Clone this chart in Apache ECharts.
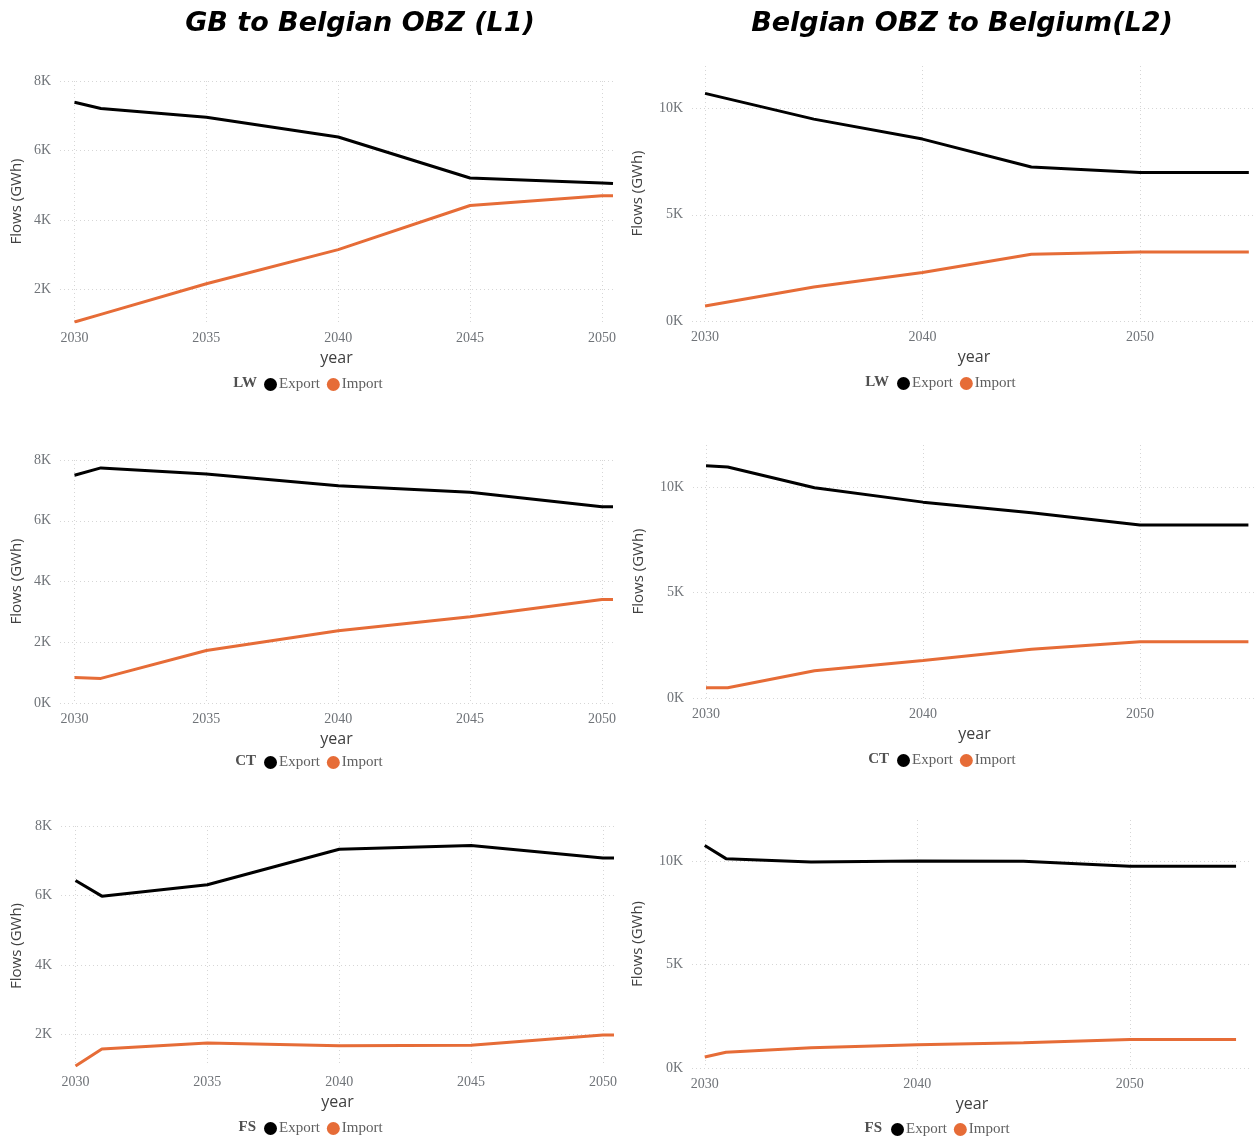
<!DOCTYPE html>
<html><head><meta charset="utf-8">
<script src="https://cdn.jsdelivr.net/npm/echarts@6/dist/echarts.min.js"></script>
<style>html,body{margin:0;padding:0;background:#fff}#c{width:1258px;height:1139px}</style>
</head><body><div id="c"></div><script>
// ---- data (GWh) ----
const yearsL1 = [2030, 2031, 2035, 2040, 2045, 2050, 2050.42]; // last = visible right edge of the plot
const l1LwExport = [7390, 7210, 6960, 6390, 5210, 5070, 5050];
const l1LwImport = [1070, 1290, 2170, 3150, 4420, 4700, 4700];
const l1CtExport = [7500, 7740, 7540, 7150, 6940, 6460, 6460];
const l1CtImport = [840, 810, 1730, 2380, 2840, 3410, 3410];
const l1FsExport = [6430, 5980, 6310, 7330, 7440, 7080, 7080];
const l1FsImport = [1090, 1580, 1750, 1670, 1690, 1980, 1980];

const yearsL2Lw = [2030, 2035, 2040, 2045, 2050, 2055];
const l2LwExport = [10710, 9500, 8560, 7250, 6990, 6990];
const l2LwImport = [710, 1600, 2280, 3140, 3250, 3250];
const yearsL2 = [2030, 2031, 2035, 2040, 2045, 2050, 2055];
const l2CtExport = [11020, 10960, 9970, 9290, 8790, 8210, 8210];
const l2CtImport = [490, 490, 1290, 1780, 2310, 2670, 2670];
const l2FsExport = [10770, 10130, 9970, 10020, 10000, 9760, 9760];
const l2FsImport = [530, 760, 980, 1130, 1220, 1380, 1380];

const ticksXL1 = [2030, 2035, 2040, 2045, 2050];
const ticksXL2 = [2030, 2040, 2050];
const ticksYL1 = [0, 2000, 4000, 6000, 8000];
const ticksYL2 = [0, 5000, 10000];
const titles = ['GB to Belgian OBZ (L1)', 'Belgian OBZ to Belgium(L2)'];
const cases = ['LW', 'CT', 'FS'];
const seriesNames = ['Export', 'Import'];

// ---- layout ----
const charts = [
  {years: yearsL1, exp: l1LwExport, imp: l1LwImport, xt: ticksXL1, yt: ticksYL1, xmin: 2029.45, xmax: 2050.42, ymin: 'dataMin', ymax: 8000,
   g: {left: 60, top: 81, width: 553, height: 241}, nameGapY: 36, leg: {x: 264, y: 377}, lab: 257},
  {years: yearsL2Lw, exp: l2LwExport, imp: l2LwImport, xt: ticksXL2, yt: ticksYL2, xmin: 2029.4, xmax: 2055.33, ymin: 0, ymax: 12000,
   g: {left: 692, top: 66, width: 564, height: 255}, nameGapY: 47, leg: {x: 897, y: 376}, lab: 889},
  {years: yearsL1, exp: l1CtExport, imp: l1CtImport, xt: ticksXL1, yt: ticksYL1, xmin: 2029.45, xmax: 2050.42, ymin: 0, ymax: 8000,
   g: {left: 60, top: 460, width: 553, height: 243}, nameGapY: 36, leg: {x: 264, y: 755}, lab: 256},
  {years: yearsL2, exp: l2CtExport, imp: l2CtImport, xt: ticksXL2, yt: ticksYL2, xmin: 2029.4, xmax: 2055.35, ymin: 0, ymax: 12000,
   g: {left: 693, top: 445, width: 563, height: 253}, nameGapY: 47, leg: {x: 897, y: 753}, lab: 889},
  {years: yearsL1, exp: l1FsExport, imp: l1FsImport, xt: ticksXL1, yt: ticksYL1, xmin: 2029.45, xmax: 2050.42, ymin: 'dataMin', ymax: 8000,
   g: {left: 61, top: 826, width: 553, height: 240}, nameGapY: 37, leg: {x: 264, y: 1121}, lab: 256},
  {years: yearsL2, exp: l2FsExport, imp: l2FsImport, xt: ticksXL2, yt: ticksYL2, xmin: 2029.4, xmax: 2055.75, ymin: 0, ymax: 12000,
   g: {left: 692, top: 820, width: 560, height: 248}, nameGapY: 47, leg: {x: 891, y: 1122}, lab: 882}
];

const colors = ['#000000', '#E66C37'];
const serif = '"Liberation Serif", "DejaVu Serif", serif';
const sans = '"Open Sans", "Noto Sans", sans-serif';
const gridLine = {show: true, lineStyle: {color: '#d6d6d6', type: [1, 3], width: 1}};

const option = {
  animation: false,
  backgroundColor: '#ffffff',
  title: [
    {text: titles[0], left: 355, top: 5, textAlign: 'center',
     textStyle: {fontFamily: '"DejaVu Sans", Verdana, sans-serif', fontWeight: 'bold', fontStyle: 'italic', fontSize: 27, color: '#000'}},
    {text: titles[1], left: 957, top: 5, textAlign: 'center',
     textStyle: {fontFamily: '"DejaVu Sans", Verdana, sans-serif', fontWeight: 'bold', fontStyle: 'italic', fontSize: 27, color: '#000'}}
  ],
  grid: [], xAxis: [], yAxis: [], series: [], legend: [], graphic: []
};

charts.forEach((c, i) => {
  option.grid.push(Object.assign({containLabel: false}, c.g));
  option.xAxis.push({
    type: 'value', gridIndex: i, min: c.xmin, max: c.xmax,
    name: 'year', nameLocation: 'middle', nameGap: 28,
    nameTextStyle: {fontFamily: sans, fontSize: 16, color: '#404040'},
    axisLine: {show: false}, axisTick: {show: false, customValues: c.xt},
    axisLabel: {customValues: c.xt, fontFamily: serif, fontSize: 14, color: '#6f7378', margin: 9, formatter: v => String(Math.round(v))},
    splitLine: gridLine
  });
  option.yAxis.push({
    type: 'value', gridIndex: i, min: c.ymin, max: c.ymax,
    name: 'Flows (GWh)', nameLocation: 'middle', nameGap: c.nameGapY,
    nameTextStyle: {fontFamily: sans, fontSize: 15, color: '#404040'},
    axisLine: {show: false}, axisTick: {show: false, customValues: c.yt},
    axisLabel: {customValues: c.yt, fontFamily: serif, fontSize: 14, color: '#6f7378', margin: 9, formatter: v => (v / 1000) + 'K'},
    splitLine: gridLine
  });
  [c.exp, c.imp].forEach((arr, k) => {
    option.series.push({
      type: 'line', name: seriesNames[k], xAxisIndex: i, yAxisIndex: i,
      data: c.years.map((y, j) => [y, arr[j]]),
      symbol: 'none', lineStyle: {width: 3, color: colors[k]}, itemStyle: {color: colors[k]},
      clip: true, z: 3 - k
    });
  });
  option.legend.push({
    left: c.leg.x, top: c.leg.y, orient: 'horizontal', icon: 'circle',
    itemWidth: 13, itemHeight: 13, itemGap: 7, padding: 0,
    data: seriesNames, selectedMode: false,
    textStyle: {fontFamily: serif, fontSize: 15, color: '#606060', padding: [0, 0, 0, -3]}
  });
  option.graphic.push({
    type: 'text', right: 1258 - c.lab, top: c.leg.y - 1,
    style: {text: cases[Math.floor(i / 2)], font: 'bold 15px ' + serif, fill: '#505050'}
  });
});

const chart = echarts.init(document.getElementById('c'), null, {renderer: 'canvas'});
chart.setOption(option);
</script></body></html>
